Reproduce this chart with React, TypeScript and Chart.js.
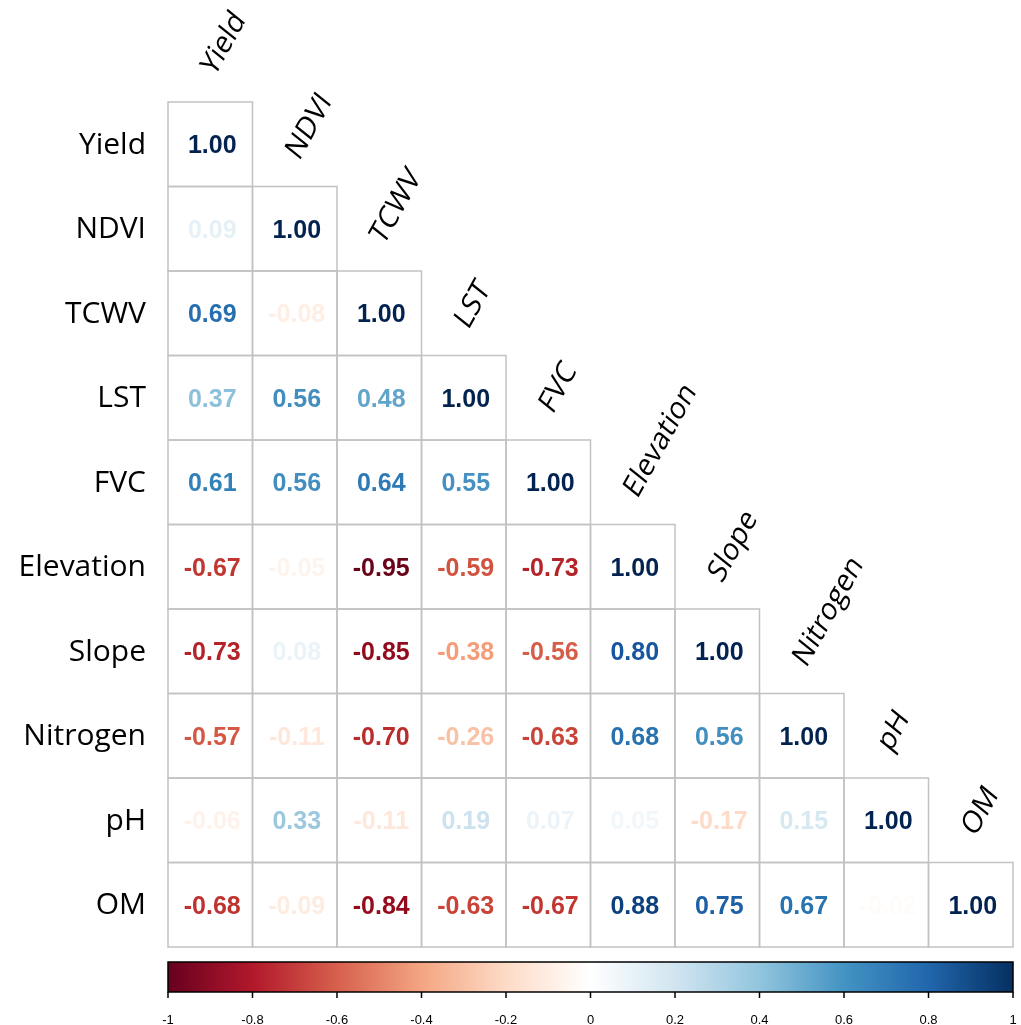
import { useEffect, useRef } from "react";
import { Chart, registerables } from "chart.js";

Chart.register(...registerables);

// Variables, in matrix order (rows top→bottom, columns left→right)
const variables = ["Yield", "NDVI", "TCWV", "LST", "FVC", "Elevation", "Slope", "Nitrogen", "pH", "OM"];

// Lower-triangle Pearson correlations, one array per row
const rowYield = [1.0];
const rowNDVI = [0.09, 1.0];
const rowTCWV = [0.69, -0.08, 1.0];
const rowLST = [0.37, 0.56, 0.48, 1.0];
const rowFVC = [0.61, 0.56, 0.64, 0.55, 1.0];
const rowElevation = [-0.67, -0.05, -0.95, -0.59, -0.73, 1.0];
const rowSlope = [-0.73, 0.08, -0.85, -0.38, -0.56, 0.8, 1.0];
const rowNitrogen = [-0.57, -0.11, -0.7, -0.26, -0.63, 0.68, 0.56, 1.0];
const rowPH = [-0.06, 0.33, -0.11, 0.19, 0.07, 0.05, -0.17, 0.15, 1.0];
const rowOM = [-0.68, -0.09, -0.84, -0.63, -0.67, 0.88, 0.75, 0.67, -0.02, 1.0];

const correlationRows = [rowYield, rowNDVI, rowTCWV, rowLST, rowFVC, rowElevation, rowSlope, rowNitrogen, rowPH, rowOM];

// Colour legend ticks
const legendTicks = [-1, -0.8, -0.6, -0.4, -0.2, 0, 0.2, 0.4, 0.6, 0.8, 1];

// Diverging red–blue palette, evenly spaced from -1 to 1
const palette = ["#67001F", "#B2182B", "#D6604D", "#F4A582", "#FDDBC7", "#FFFFFF", "#D1E5F0", "#92C5DE", "#4393C3", "#2166AC", "#053061"];

function hexToRgb(h: string) {
  const n = parseInt(h.slice(1), 16);
  return [(n >> 16) & 255, (n >> 8) & 255, n & 255];
}

// text colour for a coefficient (slightly deepened for legibility)
function colorFor(v: number) {
  const t = ((Math.max(-1, Math.min(1, v)) + 1) / 2) * (palette.length - 1);
  const i = Math.min(palette.length - 2, Math.floor(t));
  const f = t - i;
  const a = hexToRgb(palette[i]);
  const b = hexToRgb(palette[i + 1]);
  const c = a.map((x, k) => Math.round(255 * Math.pow((x + (b[k] - x) * f) / 255, 1.2)));
  return `rgb(${c[0]},${c[1]},${c[2]})`;
}

type Cell = { x: number; y: number; v: number };

const cells: Cell[] = [];
correlationRows.forEach((row, r) => row.forEach((v, c) => cells.push({ x: c, y: r, v })));

const LABEL_FONT = '"Open Sans", "DejaVu Sans", sans-serif';
const NUMBER_FONT = '"Liberation Sans", Arial, sans-serif';

const corrPlugin = {
  id: "corrMatrix",
  afterDatasetsDraw(chart: any) {
    const ctx: CanvasRenderingContext2D = chart.ctx;
    const xs = chart.scales.x;
    const ys = chart.scales.y;
    const cb = chart.scales.cb;
    const meta = chart.getDatasetMeta(0);
    const data: Cell[] = chart.data.datasets[0].data;

    ctx.save();

    // cell frames
    ctx.strokeStyle = "#c2c2c2";
    ctx.lineWidth = 1.5;
    data.forEach((d) => {
      const l = xs.getPixelForValue(d.x - 0.5);
      const r = xs.getPixelForValue(d.x + 0.5);
      const t = ys.getPixelForValue(d.y - 0.5);
      const b = ys.getPixelForValue(d.y + 0.5);
      ctx.strokeRect(l, t, r - l, b - t);
    });

    // coefficients
    ctx.font = `bold 25px ${NUMBER_FONT}`;
    ctx.textAlign = "center";
    ctx.textBaseline = "middle";
    meta.data.forEach((el: any, i: number) => {
      const d = data[i];
      ctx.fillStyle = colorFor(d.v);
      ctx.fillText(d.v.toFixed(2), el.x + 2, el.y + 2);
    });

    // row labels
    ctx.fillStyle = "#000";
    ctx.font = `30px ${LABEL_FONT}`;
    ctx.textAlign = "right";
    variables.forEach((name, i) => {
      ctx.fillText(name, xs.left - 22, ys.getPixelForValue(i) + 1);
    });

    // slanted column labels above the diagonal
    ctx.font = `29px ${LABEL_FONT}`;
    ctx.textAlign = "left";
    ctx.textBaseline = "middle";
    const ang = (-61 * Math.PI) / 180;
    const ux = Math.cos(ang);
    const uy = Math.sin(ang);
    variables.forEach((name, j) => {
      const ax = xs.getPixelForValue(j) - 2;
      const ay = ys.getPixelForValue(j - 0.5) - 30;
      ctx.save();
      ctx.setTransform(ux, uy, 0.78, 0.63, ax, ay);
      ctx.fillText(name, 0, 0);
      ctx.restore();
    });

    // colour legend
    const left = cb.getPixelForValue(-1);
    const right = cb.getPixelForValue(1);
    const top = chart.chartArea.bottom + 15;
    const h = 30;
    const grad = ctx.createLinearGradient(left, 0, right, 0);
    palette.forEach((c, k) => grad.addColorStop(k / (palette.length - 1), c));
    ctx.fillStyle = grad;
    ctx.fillRect(left, top, right - left, h);
    ctx.strokeStyle = "#000";
    ctx.lineWidth = 1.5;
    ctx.strokeRect(left, top, right - left, h);

    ctx.lineWidth = 1.5;
    ctx.fillStyle = "#000";
    ctx.font = `13px ${NUMBER_FONT}`;
    ctx.textAlign = "center";
    ctx.textBaseline = "middle";
    legendTicks.forEach((t) => {
      const px = cb.getPixelForValue(t);
      ctx.beginPath();
      ctx.moveTo(px, top + h);
      ctx.lineTo(px, top + h + 6);
      ctx.stroke();
      ctx.fillText(String(t), px, top + h + 28);
    });

    ctx.restore();
  },
};

export default function App() {
  const ref = useRef<HTMLCanvasElement | null>(null);

  useEffect(() => {
    if (!ref.current) return;
    const chart = new Chart(ref.current, {
      type: "scatter",
      data: {
        datasets: [
          {
            data: cells as any,
            pointRadius: 0,
            pointHoverRadius: 0,
          },
        ],
      },
      options: {
        animation: false,
        responsive: false,
        maintainAspectRatio: false,
        events: [],
        layout: { padding: { left: 168, top: 102, right: 8, bottom: 78 } },
        plugins: { legend: { display: false }, tooltip: { enabled: false } },
        scales: {
          x: { type: "linear", min: -0.5, max: 9.5, display: false },
          y: { type: "linear", min: -0.5, max: 9.5, reverse: true, display: false },
          cb: { type: "linear", axis: "x", position: "bottom", min: -1, max: 1, display: false },
        },
      },
      plugins: [corrPlugin],
    });
    return () => chart.destroy();
  }, []);

  return (
    <div style={{ position: "fixed", left: 0, top: 0, width: 1021, height: 1025, background: "#fff" }}>
      <canvas ref={ref} width={1021} height={1025} />
    </div>
  );
}
